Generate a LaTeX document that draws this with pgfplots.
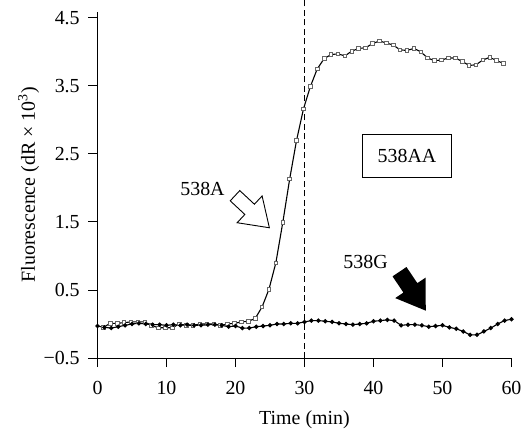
\documentclass[border=0pt]{standalone}
\usepackage{fontspec}
\setmainfont{Liberation Serif}
\usepackage{pgfplots}
\usepackage{pgfplotstable}
\pgfplotsset{compat=1.18}

\pgfplotstableread{
t v
1 -0.05
2 0.01
3 0.01
4 0.02
5 0.03
6 0.03
7 0.03
8 -0.025
9 -0.055
10 -0.055
11 -0.055
12 0.0
13 -0.02
14 -0.02
15 0.0
16 0.0
17 0.0
18 -0.02
19 0.0
20 0.01
21 0.03
22 0.04
23 0.08
24 0.25
25 0.51
26 0.90
27 1.49
28 2.13
29 2.70
30 3.16
31 3.49
32 3.75
33 3.90
34 3.96
35 3.97
36 3.94
37 4.01
38 4.05
39 4.06
40 4.12
41 4.16
42 4.13
43 4.10
44 4.03
45 4.02
46 4.05
47 4.00
48 3.91
49 3.87
50 3.88
51 3.91
52 3.91
53 3.86
54 3.80
55 3.81
56 3.88
57 3.92
58 3.87
59 3.83
}\tabA

\pgfplotstableread{
t v
0 -0.03
1 -0.05
2 -0.06
3 -0.04
4 -0.02
5 0.0
6 0.01
7 0.0
8 -0.01
9 -0.01
10 -0.02
11 -0.01
12 -0.02
13 -0.01
14 -0.02
15 -0.02
16 -0.01
17 -0.01
18 -0.02
19 -0.04
20 -0.03
21 -0.06
22 -0.06
23 -0.04
24 -0.03
25 -0.02
26 0.0
27 0.0
28 0.01
29 0.01
30 0.03
31 0.05
32 0.05
33 0.04
34 0.03
35 0.01
36 0.0
37 -0.01
38 0.0
39 0.01
40 0.04
41 0.05
42 0.06
43 0.05
44 -0.02
45 -0.01
46 -0.01
47 -0.02
48 -0.04
49 -0.03
50 -0.02
51 -0.05
52 -0.07
53 -0.11
54 -0.16
55 -0.16
56 -0.11
57 -0.06
58 0.0
59 0.05
60 0.07
}\tabG

\begin{document}
\begin{tikzpicture}
\fontsize{20}{24}\selectfont
\begin{axis}[
  scale only axis,
  width=414bp, height=346.3bp,
  xmin=0, xmax=60, ymin=-0.5, ymax=4.59,
  axis x line=bottom, axis y line=left,
  axis line style={-, line width=0.9bp},
  tick align=outside,
  major tick length=9bp,
  tick style={line width=0.9bp, black},
  xtick={0,10,20,30,40,50,60},
  ytick={-0.5,0.5,1.5,2.5,3.5,4.5},
  yticklabels={−0.5,0.5,1.5,2.5,3.5,4.5},
  /pgf/number format/assume math mode=true,
  ticklabel style={font=\fontsize{20}{24}\selectfont},
  xticklabel style={yshift=-7bp},
  yticklabel style={xshift=-2bp},
  xlabel={Time (min)},
  ylabel={Fluorescence (dR × 10\textsuperscript{3})},
  label style={font=\fontsize{20}{24}\selectfont},
  xlabel style={yshift=-3bp},
  ylabel style={yshift=-9bp},
  clip=false,
]
\addplot[black, line width=0.9bp, dash pattern=on 6bp off 3.5bp] coordinates {(30,-0.5) (30,4.765)};
\addplot[black, line width=1.1bp, mark=square*, mark size=1.8bp,
  mark options={draw=black!60, fill=white, line width=0.8bp, solid}]
  table[x expr=\thisrow{t}-0.15, y=v] {\tabA};
\addplot[black, line width=1.1bp, mark=*, mark size=1.6bp,
  mark options={fill=black, draw=black, solid}]
  table[x=t, y=v] {\tabG};
\end{axis}
% annotations (coordinates in bp, origin at lower-left of the axis box)
\begin{scope}[shift={(137.5bp,162.3bp)}, rotate=-43]
  \draw[line width=0.9bp, fill=white, line join=miter]
    (0,7bp) -- (20bp,7bp) -- (20bp,18.3bp) -- (47bp,0) -- (20bp,-18.3bp) -- (20bp,-7bp) -- (0,-7bp) -- cycle;
\end{scope}
\begin{scope}[shift={(302bp,86.3bp)}, rotate=-56]
  \fill[black]
    (0,8.4bp) -- (19.5bp,8.4bp) -- (19.5bp,18.3bp) -- (47bp,0) -- (19.5bp,-18.3bp) -- (19.5bp,-8.4bp) -- (0,-8.4bp) -- cycle;
\end{scope}
\node at (105bp,169bp) {538A};
\node at (268bp,96.5bp) {538G};
\node[draw, line width=0.9bp, minimum width=89bp, minimum height=42.7bp, inner sep=0pt] at (309.5bp,201.7bp) {538AA};
\pgfresetboundingbox
\useasboundingbox (-97.5bp,-76bp) rectangle (427.5bp,358bp);
\end{tikzpicture}
\end{document}
